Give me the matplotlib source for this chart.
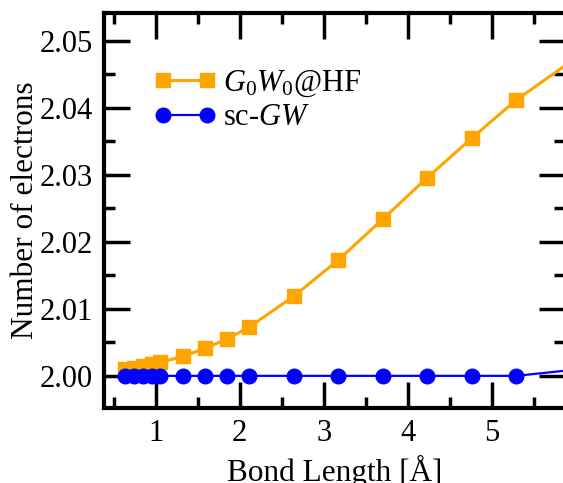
import numpy as np
import matplotlib.pyplot as plt
from matplotlib.ticker import MultipleLocator

plt.rcParams['font.family'] = ['Liberation Serif', 'DejaVu Serif']
plt.rcParams['mathtext.fontset'] = 'custom'
plt.rcParams['mathtext.rm'] = 'Liberation Serif'
plt.rcParams['mathtext.it'] = 'Liberation Serif:italic'

# bond lengths (Angstrom), grid of 1.2 ... 12 bohr
bond = [0.635, 0.741, 0.847, 0.952, 1.058, 1.323, 1.587, 1.852, 2.117,
        2.646, 3.175, 3.704, 4.233, 4.763, 5.292, 6.350]
n_g0w0 = [2.0010, 2.0012, 2.0015, 2.0017, 2.0020, 2.0029, 2.0041, 2.0055, 2.0073,
          2.0119, 2.0173, 2.0234, 2.0296, 2.0355, 2.0412, 2.0505]
n_scgw = [2.0000, 2.0000, 2.0000, 2.0000, 2.0000, 2.0000, 2.0000, 2.0000, 2.0000,
          2.0000, 2.0000, 2.0000, 2.0000, 2.0000, 2.0000, 2.0014]

W, H = 563, 483
fig = plt.figure(figsize=(W / 100, H / 100), dpi=100)
ax = fig.add_axes([104 / W, (H - 408) / H, (565 - 104) / W, (408 - 12.7) / H])

ax.plot(bond, n_g0w0, color='orange', lw=2.2, marker='s', ms=9.5,
        label=r'$G_0W_0$@HF')
ax.plot(bond, n_scgw, color='blue', lw=1.6, marker='o', ms=10.5,
        label=r'sc-$GW$')

ax.set_xlim(0.387, 5.87)
ax.set_ylim(1.9952, 2.0542)
ax.xaxis.set_major_locator(MultipleLocator(1))
ax.xaxis.set_minor_locator(MultipleLocator(0.5))
ax.yaxis.set_major_locator(MultipleLocator(0.01))
ax.yaxis.set_minor_locator(MultipleLocator(0.005))
ax.yaxis.set_major_formatter(plt.FormatStrFormatter('%.2f'))

ax.tick_params(which='both', direction='in', top=True, right=True,
               labelsize=22, width=2.5, pad=8)
ax.tick_params(which='major', length=19)
ax.tick_params(which='minor', length=8)
for s in ax.spines.values():
    s.set_linewidth(3)

ax.set_xlabel('Bond Length [Å]', fontsize=22.5, labelpad=5)
ax.set_ylabel('Number of electrons', fontsize=22.5, labelpad=0)

ax.legend(loc='upper left', bbox_to_anchor=(0.108, 0.859), frameon=False,
          fontsize=22, handlelength=2.04, handletextpad=0.23, labelspacing=0.15,
          borderpad=0, borderaxespad=0, numpoints=2)

fig.savefig('out.png', dpi=100)
